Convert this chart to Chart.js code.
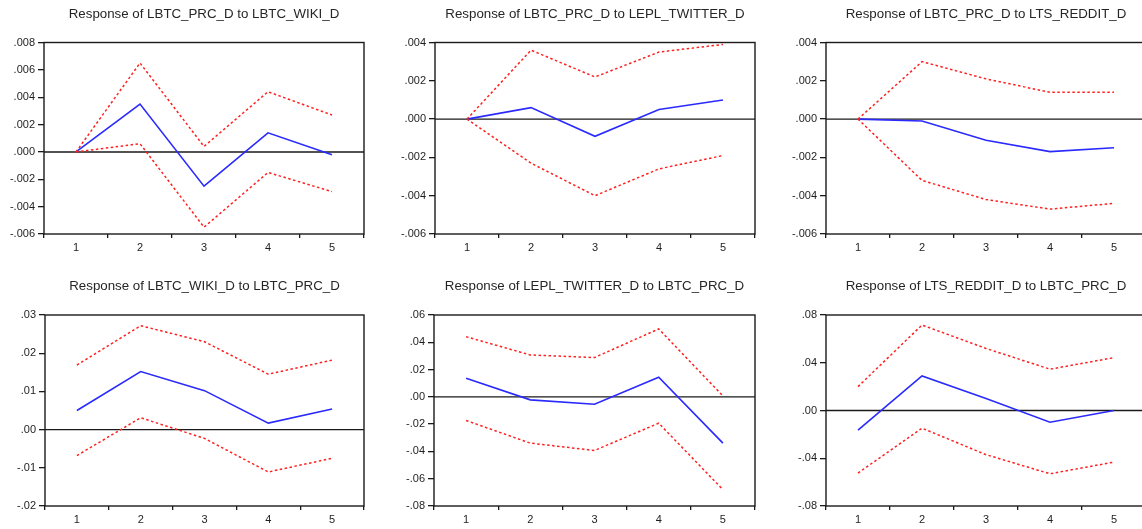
<!DOCTYPE html>
<html>
<head>
<meta charset="utf-8">
<script src="https://cdn.jsdelivr.net/npm/chart.js@4/dist/chart.umd.min.js"></script>
<style>
  html, body { margin: 0; padding: 0; background: #fff; width: 1142px; height: 529px; overflow: hidden; position: relative; }
  canvas { position: absolute; }
</style>
</head>
<body>
<canvas id="c1"></canvas>
<canvas id="c2"></canvas>
<canvas id="c3"></canvas>
<canvas id="c4"></canvas>
<canvas id="c5"></canvas>
<canvas id="c6"></canvas>
<script>
// Impulse-response periods
const periods = ['1', '2', '3', '4', '5'];

// Response of LBTC_PRC_D to LBTC_WIKI_D
const prcToWiki      = [0, 0.0035, -0.0025, 0.0014, -0.0002];
const prcToWikiUpper = [0, 0.0065, 0.0004, 0.0044, 0.0027];
const prcToWikiLower = [0, 0.0006, -0.0055, -0.0015, -0.0029];
const prcToWikiTicks = ['-.006', '-.004', '-.002', '.000', '.002', '.004', '.006', '.008'];

// Response of LBTC_PRC_D to LEPL_TWITTER_D
const prcToTwitter      = [0, 0.0006, -0.0009, 0.0005, 0.0010];
const prcToTwitterUpper = [0, 0.0036, 0.0022, 0.0035, 0.0039];
const prcToTwitterLower = [0, -0.0023, -0.0040, -0.0026, -0.0019];
const prcToTwitterTicks = ['-.006', '-.004', '-.002', '.000', '.002', '.004'];

// Response of LBTC_PRC_D to LTS_REDDIT_D
const prcToReddit      = [0, -0.0001, -0.0011, -0.0017, -0.0015];
const prcToRedditUpper = [0, 0.0030, 0.0021, 0.0014, 0.0014];
const prcToRedditLower = [0, -0.0032, -0.0042, -0.0047, -0.0044];
const prcToRedditTicks = ['-.006', '-.004', '-.002', '.000', '.002', '.004'];

// Response of LBTC_WIKI_D to LBTC_PRC_D
const wikiToPrc      = [0.0050, 0.0152, 0.0102, 0.0017, 0.0054];
const wikiToPrcUpper = [0.0169, 0.0272, 0.0230, 0.0145, 0.0182];
const wikiToPrcLower = [-0.0068, 0.0031, -0.0023, -0.0111, -0.0075];
const wikiToPrcTicks = ['-.02', '-.01', '.00', '.01', '.02', '.03'];

// Response of LEPL_TWITTER_D to LBTC_PRC_D
const twitterToPrc      = [0.0137, -0.0022, -0.0054, 0.0144, -0.0339];
const twitterToPrcUpper = [0.0441, 0.0307, 0.0288, 0.0498, 0.0007];
const twitterToPrcLower = [-0.0173, -0.0339, -0.0393, -0.0193, -0.0680];
const twitterToPrcTicks = ['-.08', '-.06', '-.04', '-.02', '.00', '.02', '.04', '.06'];

// Response of LTS_REDDIT_D to LBTC_PRC_D
const redditToPrc      = [-0.0164, 0.0290, 0.0100, -0.0098, 0.0000];
const redditToPrcUpper = [0.0200, 0.0716, 0.0520, 0.0346, 0.0443];
const redditToPrcLower = [-0.0524, -0.0148, -0.0370, -0.0530, -0.0432];
const redditToPrcTicks = ['-.08', '-.04', '.00', '.04', '.08'];

const panels = [
  { id: 'c1', title: 'Response of LBTC_PRC_D to LBTC_WIKI_D', irf: prcToWiki, upper: prcToWikiUpper, lower: prcToWikiLower, ticks: prcToWikiTicks },
  { id: 'c2', title: 'Response of LBTC_PRC_D to LEPL_TWITTER_D', irf: prcToTwitter, upper: prcToTwitterUpper, lower: prcToTwitterLower, ticks: prcToTwitterTicks },
  { id: 'c3', title: 'Response of LBTC_PRC_D to LTS_REDDIT_D', irf: prcToReddit, upper: prcToRedditUpper, lower: prcToRedditLower, ticks: prcToRedditTicks },
  { id: 'c4', title: 'Response of LBTC_WIKI_D to LBTC_PRC_D', irf: wikiToPrc, upper: wikiToPrcUpper, lower: wikiToPrcLower, ticks: wikiToPrcTicks },
  { id: 'c5', title: 'Response of LEPL_TWITTER_D to LBTC_PRC_D', irf: twitterToPrc, upper: twitterToPrcUpper, lower: twitterToPrcLower, ticks: twitterToPrcTicks },
  { id: 'c6', title: 'Response of LTS_REDDIT_D to LBTC_PRC_D', irf: redditToPrc, upper: redditToPrcUpper, lower: redditToPrcLower, ticks: redditToPrcTicks }
];

// Canvas placement: left, top, width, height, y-axis width, padding top, x-axis height
const boxes = [
  { left: 0,   top: 0,   width: 368, height: 260, yWidth: 44, padTop: 42.5, xHeight: 26 },
  { left: 380, top: 0,   width: 379, height: 260, yWidth: 55, padTop: 42.5, xHeight: 26 },
  { left: 760, top: 0,   width: 390, height: 260, yWidth: 66, padTop: 42.5, xHeight: 26 },
  { left: 0,   top: 265, width: 368, height: 264, yWidth: 45, padTop: 50,   xHeight: 23 },
  { left: 380, top: 265, width: 379, height: 264, yWidth: 54, padTop: 50,   xHeight: 23 },
  { left: 760, top: 265, width: 390, height: 264, yWidth: 66, padTop: 50,   xHeight: 23 }
];

Chart.defaults.font.family = '"Liberation Sans", Arial, sans-serif';
Chart.defaults.font.size = 11;
Chart.defaults.color = '#1e1e1e';

// Zero reference line, plot frame and panel title
const framePlugin = {
  id: 'irfFrame',
  beforeDatasetsDraw(chart) {
    const { ctx, chartArea: a, scales: { y } } = chart;
    const y0 = y.getPixelForValue(0);
    ctx.save();
    ctx.strokeStyle = '#1a1a1a';
    ctx.lineWidth = 1.4;
    ctx.beginPath();
    ctx.moveTo(a.left, y0);
    ctx.lineTo(a.right, y0);
    ctx.stroke();
    ctx.restore();
  },
  afterDraw(chart, args, opts) {
    const { ctx, chartArea: a } = chart;
    ctx.save();
    ctx.strokeStyle = '#1a1a1a';
    ctx.lineWidth = 1.4;
    ctx.strokeRect(a.left, a.top, a.right - a.left, a.bottom - a.top);
    ctx.fillStyle = '#262626';
    ctx.font = '13.3px "Liberation Sans", Arial, sans-serif';
    ctx.textAlign = 'center';
    ctx.textBaseline = 'middle';
    ctx.fillText(opts.title, (a.left + a.right) / 2, a.top - 28.5);
    ctx.restore();
  }
};

panels.forEach((p, i) => {
  const b = boxes[i];
  const canvas = document.getElementById(p.id);
  canvas.width = b.width;
  canvas.height = b.height;
  canvas.style.left = b.left + 'px';
  canvas.style.top = b.top + 'px';
  const tickValues = p.ticks.map(t => parseFloat(t));

  new Chart(canvas, {
    type: 'line',
    data: {
      labels: periods,
      datasets: [
        { data: p.upper, borderColor: '#ff2020', borderWidth: 1.5, borderDash: [2.5, 2.5], pointRadius: 0, tension: 0, fill: false },
        { data: p.lower, borderColor: '#ff2020', borderWidth: 1.5, borderDash: [2.5, 2.5], pointRadius: 0, tension: 0, fill: false },
        { data: p.irf, borderColor: '#2a2aff', borderWidth: 1.6, pointRadius: 0, tension: 0, fill: false }
      ]
    },
    options: {
      responsive: false,
      animation: false,
      events: [],
      layout: { padding: { top: b.padTop, right: 4, left: 0, bottom: 0 } },
      plugins: {
        legend: { display: false },
        tooltip: { enabled: false },
        title: { display: false },
        irfFrame: { title: p.title }
      },
      scales: {
        x: {
          type: 'category',
          offset: true,
          border: { display: false },
          grid: { offset: true, drawOnChartArea: false, drawTicks: true, tickLength: 4, color: '#1a1a1a', lineWidth: 1.3 },
          ticks: { autoSkip: false, maxRotation: 0, padding: 3, color: '#1e1e1e' },
          afterFit(scale) { scale.height = b.xHeight; }
        },
        y: {
          type: 'linear',
          min: tickValues[0],
          max: tickValues[tickValues.length - 1],
          border: { display: false },
          grid: { drawOnChartArea: false, drawTicks: true, tickLength: 6, color: '#1a1a1a', lineWidth: 1.3 },
          ticks: { padding: 3, color: '#1e1e1e', callback: (v, idx) => p.ticks[idx] },
          afterBuildTicks(scale) { scale.ticks = tickValues.map(v => ({ value: v })); },
          afterFit(scale) { scale.width = b.yWidth; }
        }
      }
    },
    plugins: [framePlugin]
  });
});
</script>
</body>
</html>
